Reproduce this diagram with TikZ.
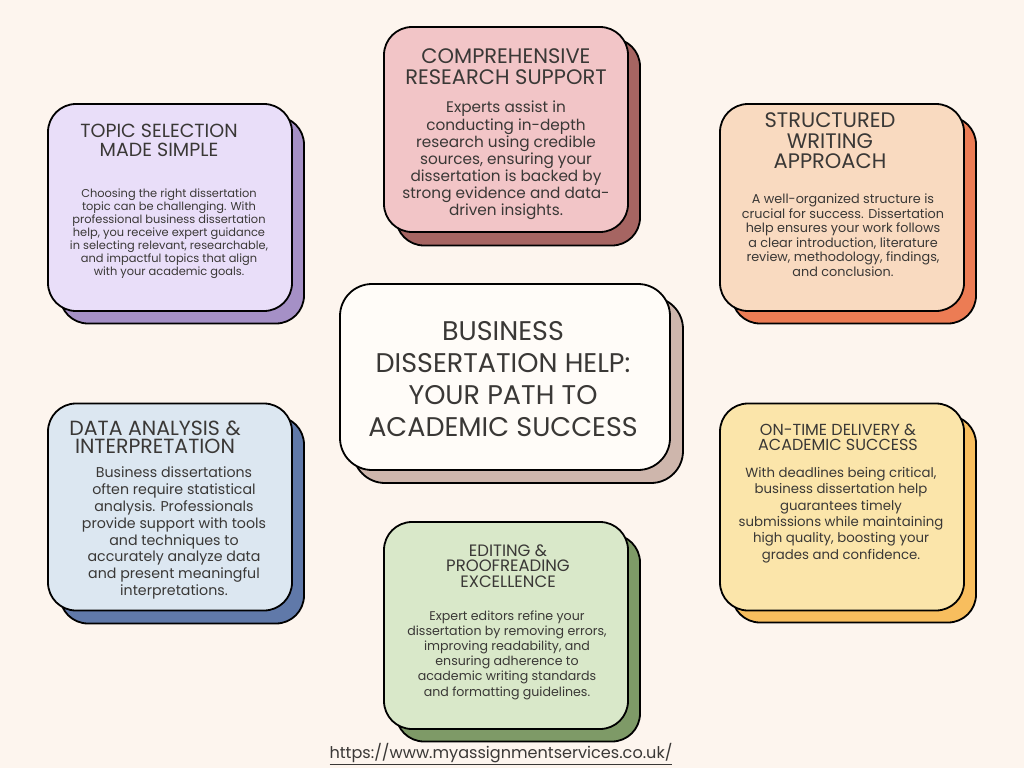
\documentclass[tikz,border=0pt]{standalone}
\usepackage{fontspec}
\setmainfont{Poppins}
\pgfdeclarelayer{bg}
\pgfsetlayers{bg,main}
\definecolor{bgc}{HTML}{FDF5EE}
\definecolor{ink}{HTML}{3A3836}
\definecolor{purF}{HTML}{E9DEF9}
\definecolor{purS}{HTML}{A590C6}
\definecolor{pinF}{HTML}{F2C5C7}
\definecolor{pinS}{HTML}{A66562}
\definecolor{peaF}{HTML}{F9DAC0}
\definecolor{peaS}{HTML}{EC7C54}
\definecolor{bluF}{HTML}{DCE7F1}
\definecolor{bluS}{HTML}{6079A9}
\definecolor{yelF}{HTML}{FBE5AA}
\definecolor{yelS}{HTML}{F8BE5E}
\definecolor{greF}{HTML}{D9E8C9}
\definecolor{greS}{HTML}{7E9A67}
\definecolor{cenF}{HTML}{FFFCF8}
\definecolor{cenS}{HTML}{CEB6AC}
\tikzset{
  card/.style={draw=black, line width=1.8pt, rounded corners=28pt, minimum width=244pt, minimum height=207pt, inner sep=0pt},
  head/.style={text=ink, align=center, inner sep=0pt},
  body/.style={text=ink, align=center, inner sep=0pt},
  link/.style={draw=black, line width=1.6pt},
}
\begin{document}
\begin{tikzpicture}[x=1pt,y=-1pt]
\useasboundingbox[fill=bgc] (0,0) rectangle (1024,768);

% centre
\node[card, fill=cenS, minimum width=330pt, minimum height=186pt, rounded corners=32pt] (cenS) at (518,390) {};
\node[card, fill=cenF, minimum width=330pt, minimum height=186pt, rounded corners=32pt] (cen) at (505,377) {};
\node[head, font=\fontsize{27}{32}\selectfont] (cenT) at (503,379) {BUSINESS\\DISSERTATION HELP:\\YOUR PATH TO\\ACADEMIC SUCCESS};

% topic
\node[card, fill=purS] (topS) at (182,220) {};
\node[card, fill=purF] (top) at (170,207.5) {};
\node[head, font=\fontsize{19}{19}\selectfont] (topH) at (159,140) {TOPIC SELECTION\\MADE SIMPLE};
\node[body, font=\fontsize{11.4}{13}\selectfont] (topB) at (169,234) {Choosing the right dissertation\\topic can be challenging. With\\professional business dissertation\\help, you receive expert guidance\\in selecting relevant, researchable,\\and impactful topics that align\\with your academic goals.};

% comprehensive
\node[card, fill=pinS] (comS) at (518,142) {};
\node[card, fill=pinF, minimum height=205pt] (com) at (506,129.5) {};
\node[head, font=\fontsize{21}{20.5}\selectfont] (comH) at (506,66.5) {COMPREHENSIVE\\RESEARCH SUPPORT};
\node[body, font=\fontsize{15.3}{17.1}\selectfont] (comB) at (506,160.5) {Experts assist in\\conducting in-depth\\research using credible\\sources, ensuring your\\dissertation is backed by\\strong evidence and data-\\driven insights.};

% structured
\node[card, fill=peaS] (strS) at (854,220) {};
\node[card, fill=peaF] (str) at (842,207.5) {};
\node[head, font=\fontsize{21}{20.5}\selectfont] (strH) at (830,141) {STRUCTURED\\WRITING\\APPROACH};
\node[body, font=\fontsize{12.8}{14.5}\selectfont] (strB) at (843,235) {A well-organized structure is\\crucial for success. Dissertation\\help ensures your work follows\\a clear introduction, literature\\review, methodology, findings,\\and conclusion.};

% data
\node[card, fill=bluS] (datS) at (182,520) {};
\node[card, fill=bluF] (dat) at (170,507) {};
\node[head, font=\fontsize{20.5}{18.5}\selectfont] (datH) at (155,437.5) {DATA ANALYSIS \&\\INTERPRETATION};
\node[body, font=\fontsize{14.2}{16.9}\selectfont] (datB) at (174,533) {Business dissertations\\often require statistical\\analysis. Professionals\\provide support with tools\\and techniques to\\accurately analyze data\\and present meaningful\\interpretations.};

% on-time
\node[card, fill=yelS] (onS) at (854,519) {};
\node[card, fill=yelF] (on) at (842,507) {};
\node[head, font=\fontsize{16}{15}\selectfont] (onH) at (838,437) {ON-TIME DELIVERY \&\\ACADEMIC SUCCESS};
\node[body, font=\fontsize{13.3}{16.4}\selectfont] (onB) at (841,515) {With deadlines being critical,\\business dissertation help\\guarantees timely\\submissions while maintaining\\high quality, boosting your\\grades and confidence.};

% editing
\node[card, fill=greS] (ediS) at (518,638) {};
\node[card, fill=greF] (edi) at (506,625.5) {};
\node[head, font=\fontsize{16.5}{15.5}\selectfont] (ediH) at (508,566) {EDITING \&\\PROOFREADING\\EXCELLENCE};
\node[body, font=\fontsize{12.6}{15.2}\selectfont] (ediB) at (507,655) {Expert editors refine your\\dissertation by removing errors,\\improving readability, and\\ensuring adherence to\\academic writing standards\\and formatting guidelines.};

% url
\node[text=ink, inner sep=0pt, font=\fontsize{16.1}{17}\selectfont] (url) at (501,754) {\underline{https://www.myassignmentservices.co.uk/}};

% connectors
\begin{pgfonlayer}{bg}
\draw[link] (cen) -- (com);
\draw[link] (cen) -- (top);
\draw[link] (cen) -- (str);
\draw[link] (cen) -- (dat);
\draw[link] (cen) -- (on);
\draw[link] (cen) -- (edi);
\end{pgfonlayer}
\end{tikzpicture}
\end{document}
